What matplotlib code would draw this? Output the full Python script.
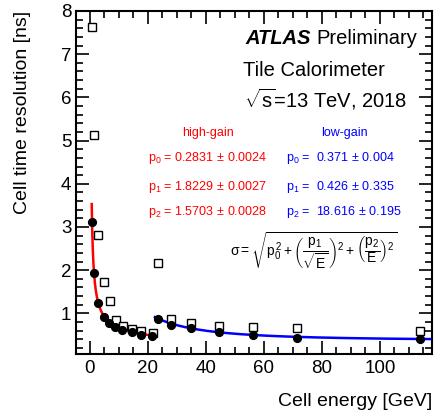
import numpy as np
import matplotlib
matplotlib.use("Agg")
import matplotlib.pyplot as plt
from matplotlib.ticker import MultipleLocator

plt.rcParams['font.family'] = ['Liberation Sans', 'DejaVu Sans']
plt.rcParams['mathtext.fontset'] = 'custom'
plt.rcParams['mathtext.rm'] = 'Liberation Sans'
plt.rcParams['mathtext.it'] = 'Liberation Sans'
plt.rcParams['mathtext.bf'] = 'Liberation Sans:bold'
plt.rcParams['mathtext.sf'] = 'Liberation Sans'

# ---- data ----
hg_energy = [0.6, 1.4, 2.6, 4.7, 6.7, 8.7, 11.1, 14.4, 17.6, 21.5]
hg_fit_sigma = [3.11, 1.94, 1.25, 0.92, 0.78, 0.69, 0.62, 0.57, 0.51, 0.47]
lg_energy = [23.4, 27.8, 34.7, 44.5, 56.3, 71.5, 113.7]
lg_fit_sigma = [0.87, 0.74, 0.66, 0.56, 0.49, 0.44, 0.40]

open_energy = [0.7, 1.4, 2.6, 4.7, 6.8, 8.9, 11.4, 14.4, 17.6, 21.6,
               23.6, 27.9, 34.7, 44.5, 56.3, 71.5, 113.7]
open_sigma = [7.63, 5.14, 2.82, 1.72, 1.28, 0.85, 0.71, 0.64, 0.60, 0.55,
              2.16, 0.86, 0.77, 0.71, 0.68, 0.66, 0.60]

hg_params = [0.2831, 1.8229, 1.5703]
hg_errors = [0.0024, 0.0027, 0.0028]
lg_params = [0.371, 0.426, 18.616]
lg_errors = [0.004, 0.335, 0.195]
hg_range = [0.6, 21.5]
lg_range = [22.4, 118]

xticks = [0, 20, 40, 60, 80, 100]
yticks = [1, 2, 3, 4, 5, 6, 7, 8]


def sigma(E, p):
    return np.sqrt(p[0] ** 2 + (p[1] / np.sqrt(E)) ** 2 + (p[2] / E) ** 2)


W, H = 437, 418
fig = plt.figure(figsize=(W / 100, H / 100), dpi=100)
ax = fig.add_axes([75.5 / W, 1 - 354 / H, 356.5 / W, 343 / H])

ax.set_xlim(-5, 118)
ax.set_ylim(0.06, 8)

Eh = np.linspace(hg_range[0], hg_range[1], 400)
El = np.linspace(lg_range[0], lg_range[1], 400)
ax.plot(Eh, sigma(Eh, hg_params), color='#ff0000', lw=1.8, zorder=2)
ax.plot(El, sigma(El, lg_params), color='#0000ff', lw=1.8, zorder=2)

ax.plot(open_energy, open_sigma, ls='none', marker='s', ms=5.6,
        mfc='white', mec='black', mew=1.0, zorder=3)
ax.plot(hg_energy, hg_fit_sigma, ls='none', marker='o', ms=5.6,
        color='black', zorder=4)
ax.plot(lg_energy, lg_fit_sigma, ls='none', marker='o', ms=5.6,
        color='black', zorder=4)

ax.set_xticks(xticks)
ax.set_yticks(yticks)
ax.xaxis.set_minor_locator(MultipleLocator(5))
ax.yaxis.set_minor_locator(MultipleLocator(0.2))
ax.tick_params(which='both', direction='in', top=True, right=True,
               labelsize=13.5, width=1.2, colors='black')
ax.tick_params(which='major', length=9.5, pad=4)
ax.tick_params(which='minor', length=5)
ax.tick_params(axis='y', pad=3)
for s in ax.spines.values():
    s.set_linewidth(1.5)

fig.text(432 / W, 1 - 402 / H, 'Cell energy [GeV]', ha='right', va='center',
         fontsize=14)
fig.text(23 / W, 1 - 11 / H, 'Cell time resolution [ns]', ha='center',
         va='top', rotation=90, fontsize=14)

def ax_xy(px, py):
    return (px - 75.5) / 356.5, (354 - py) / 343

x, y = ax_xy(245, 39)
ax.text(x, y, 'ATLAS', transform=ax.transAxes, fontsize=14.5,
        fontweight='bold', fontstyle='italic', va='center', ha='left')
x, y = ax_xy(316, 39)
ax.text(x, y, 'Preliminary', transform=ax.transAxes, fontsize=14.5,
        va='center', ha='left')
x, y = ax_xy(243, 70)
ax.text(x, y, 'Tile Calorimeter', transform=ax.transAxes, fontsize=14.5,
        va='center', ha='left')
x, y = ax_xy(244, 99)
ax.text(x, y, r'$\sqrt{\mathrm{s}}$=13 TeV, 2018', transform=ax.transAxes,
        fontsize=14.5, va='center', ha='left')

x, y = ax_xy(208, 133)
ax.text(x, y, 'high-gain', transform=ax.transAxes, fontsize=9,
        color='#ff0000', va='center', ha='center')
x, y = ax_xy(344.5, 133)
ax.text(x, y, 'low-gain', transform=ax.transAxes, fontsize=9,
        color='#0000ff', va='center', ha='center')

rows_y = [158, 187, 212]
for i in range(3):
    x, y = ax_xy(148, rows_y[i])
    ax.text(x, y, r'p$_{%d}$ = %.4f$\,\pm\,$%.4f' % (i, hg_params[i], hg_errors[i]),
            transform=ax.transAxes, fontsize=9, color='#ff0000',
            va='center', ha='left')
    x, y = ax_xy(286, rows_y[i])
    ax.text(x, y, r'p$_{%d}$ =  %.3f$\,\pm\,$%.3f' % (i, lg_params[i], lg_errors[i]),
            transform=ax.transAxes, fontsize=9, color='#0000ff',
            va='center', ha='left')

x, y = ax_xy(313.5, 251)
ax.text(x, y,
        r'$\sigma = \sqrt{p_0^2 + \left(\dfrac{p_1}{\sqrt{E}}\right)^2 + \left(\dfrac{p_2}{E}\right)^2}$',
        transform=ax.transAxes, fontsize=10, va='center', ha='center')

fig.savefig('out.png', dpi=100)
